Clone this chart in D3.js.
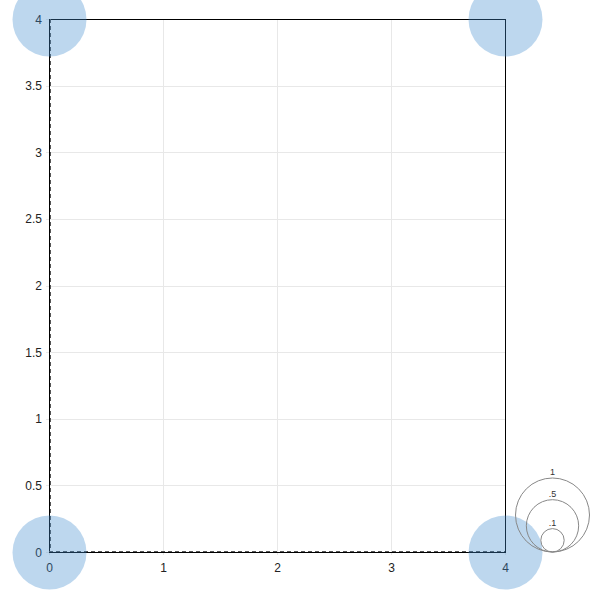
<!DOCTYPE html>
<html><head><meta charset="utf-8">
<script src="https://cdn.jsdelivr.net/npm/d3@7"></script>
<style>body{margin:0;background:#fff}svg{display:block}text{font-family:Arial,"Liberation Sans",sans-serif}</style>
</head><body><svg id="c" width="600" height="600"></svg>
<script>
const xVals = [0, 0, 4, 4];
const yVals = [0, 4, 0, 4];
const sizes = [1, 1, 1, 1];
const xTicks = [0, 1, 2, 3, 4];
const yTicks = [0, 0.5, 1, 1.5, 2, 2.5, 3, 3.5, 4];
const legendSizes = [1, 0.5, 0.1];
const legendLabels = ["1", ".5", ".1"];

const svg = d3.select("#c");
const x = d3.scaleLinear().domain([0, 4]).range([49, 505]);
const y = d3.scaleLinear().domain([0, 4]).range([552, 19]);
const r = d3.scaleSqrt().domain([0, 1]).range([0, 37]);

// grid
const g = svg.append("g");
g.selectAll(".gx").data(xTicks).join("line")
  .attr("x1", d => Math.round(x(d)) + 0.5).attr("x2", d => Math.round(x(d)) + 0.5)
  .attr("y1", y(4)).attr("y2", y(0) + 3)
  .attr("stroke", "#e8e8e8").attr("stroke-width", 1);
g.selectAll(".gy").data(yTicks).join("line")
  .attr("y1", d => Math.round(y(d)) + 0.5).attr("y2", d => Math.round(y(d)) + 0.5)
  .attr("x1", x(0) - 3).attr("x2", x(4))
  .attr("stroke", "#e8e8e8").attr("stroke-width", 1);

// frame
svg.append("rect").attr("x", x(0) + 0.5).attr("y", y(4) + 0.5)
  .attr("width", x(4) - x(0)).attr("height", y(0) - y(4))
  .attr("fill", "none").attr("stroke", "#000").attr("stroke-width", 1);

// zero lines (dashed)
svg.append("line").attr("x1", x(0) + 1.5).attr("x2", x(0) + 1.5)
  .attr("y1", y(4)).attr("y2", y(0))
  .attr("stroke", "#555").attr("stroke-dasharray", "4,3");
svg.append("line").attr("y1", y(0) - 0.5).attr("y2", y(0) - 0.5)
  .attr("x1", x(0)).attr("x2", x(4))
  .attr("stroke", "#555").attr("stroke-dasharray", "4,3");

// tick labels
svg.selectAll(".xl").data(xTicks).join("text")
  .attr("x", d => x(d) + 0.5).attr("y", y(0) + 20)
  .attr("text-anchor", "middle").attr("font-size", 12).attr("fill", "#222")
  .text(d => d3.format("")(d));
svg.selectAll(".yl").data(yTicks).join("text")
  .attr("x", x(0) - 7).attr("y", d => y(d) + 4.5)
  .attr("text-anchor", "end").attr("font-size", 12).attr("fill", "#222")
  .text(d => d3.format("")(d));

// bubbles
svg.selectAll(".b").data(xVals.map((v, i) => ({x: v, y: yVals[i], s: sizes[i]}))).join("circle")
  .attr("cx", d => x(d.x) + 0.5).attr("cy", d => y(d.y) + 0.5).attr("r", d => r(d.s))
  .attr("fill", "rgb(66,141,206)").attr("fill-opacity", 0.35);

// size legend
const lx = 552.5, lb = 552;
const lg = svg.append("g");
lg.selectAll("circle").data(legendSizes).join("circle")
  .attr("cx", lx).attr("cy", d => lb - r(d)).attr("r", d => r(d))
  .attr("fill", "none").attr("stroke", "#888").attr("stroke-width", 1);
lg.selectAll("text").data(legendSizes).join("text")
  .attr("x", lx).attr("y", d => lb - 2 * r(d) - 3)
  .attr("text-anchor", "middle").attr("font-size", 9).attr("fill", "#333")
  .text((d, i) => legendLabels[i]);
</script></body></html>
